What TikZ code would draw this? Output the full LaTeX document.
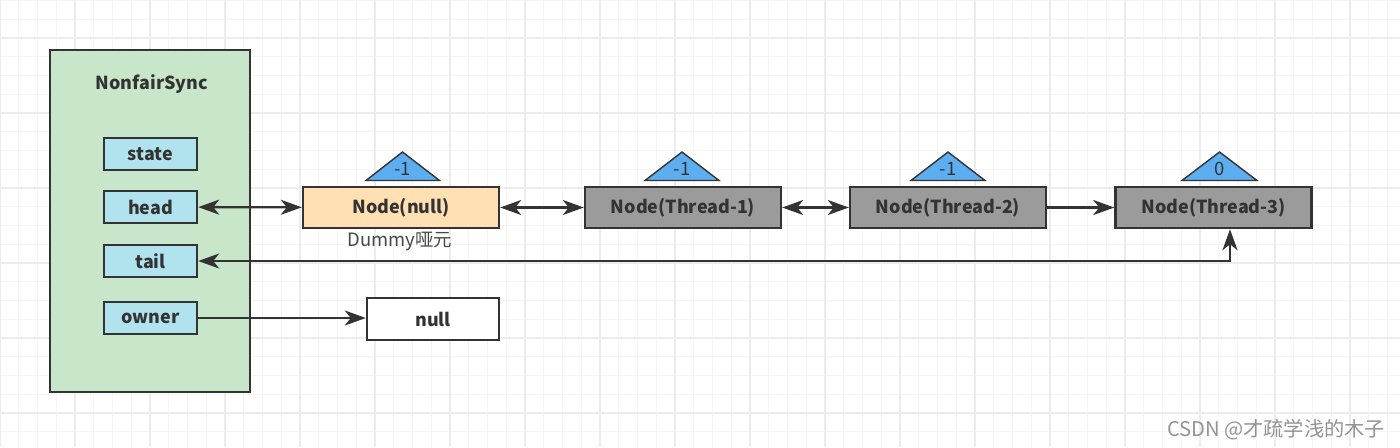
\documentclass[tikz,border=0pt]{standalone}
\usepackage{fontspec}
\setmainfont{Noto Sans CJK SC}
\usepackage{tikz}
\usetikzlibrary{arrows.meta}

\definecolor{syncgreen}{HTML}{C8E6C9}
\definecolor{fieldblue}{HTML}{B0E3EE}
\definecolor{dummyorange}{HTML}{FFE0B2}
\definecolor{threadgray}{HTML}{9B9B9B}
\definecolor{waitblue}{HTML}{5DAEF0}
\definecolor{edgegray}{HTML}{333333}

\begin{document}
\begin{tikzpicture}[x=0.02cm, y=-0.02cm,
        gridminor/.style={line width=0.5pt, gray!8},
        gridmajor/.style={line width=0.6pt, gray!15},
        box/.style={draw=edgegray, line width=1.4pt, inner sep=0pt, text=edgegray,
                    font=\bfseries\fontsize{10.2}{12}\selectfont},
        fieldbox/.style={box, fill=fieldblue, minimum width=1.86cm, minimum height=0.64cm},
        qnode/.style={box, fill=threadgray, minimum width=3.92cm, minimum height=0.82cm},
        waitmark/.style={draw=edgegray, line width=0.8pt, fill=waitblue, line join=miter},
        waitnum/.style={text=edgegray, font=\fontsize{10.5}{12}\selectfont},
        tip/.tip={Stealth[length=0.42cm, width=0.3cm, inset=0.12cm]},
        link/.style={draw=edgegray, line width=1.3pt, tip-tip},
        onelink/.style={draw=edgegray, line width=1.3pt, -tip}]

    \useasboundingbox (0,0) rectangle (1400,447);
    \fill [white] (0,0) rectangle (1400,447);
    \foreach \gx in {0,18.75,...,1400} \draw [gridminor] (\gx,0) -- (\gx,447);
    \foreach \gy in {0.5,19.25,...,447} \draw [gridminor] (0,\gy) -- (1400,\gy);
    \foreach \gx in {0,75,...,1400} \draw [gridmajor] (\gx,0) -- (\gx,447);
    \foreach \gy in {38,113,...,447} \draw [gridmajor] (0,\gy) -- (1400,\gy);

    \node [box, fill=syncgreen, line width=1.6pt, minimum width=4cm, minimum height=6.84cm] (sync) at (150,221) {};
    \node [text=edgegray, font=\bfseries\fontsize{10.2}{12}\selectfont] (title) at (152,84) {NonfairSync};

    \node [fieldbox] (state) at (150.5,154) {state};
    \node [fieldbox] (head) at (150.5,207) {head};
    \node [fieldbox] (tail) at (150.5,261) {tail};
    \node [fieldbox] (owner) at (150.5,318) {owner};

    \node [qnode, fill=dummyorange] (dummy) at (401,207.5) {Node(null)};
    \node [qnode] (thread1) at (683,207.5) {Node(Thread-1)};
    \node [qnode] (thread2) at (948,207.5) {Node(Thread-2)};
    \node [qnode] (thread3) at (1213.5,207.5) {Node(Thread-3)};
    \node [box, fill=white, minimum width=2.64cm, minimum height=0.84cm] (nullbox) at (433,319) {null};

    \node [text=edgegray!90, font=\fontsize{10.5}{12}\selectfont] (dummytext) at (400,241) {Dummy哑元};

    \draw [waitmark] (366,180.5) -- (402.5,152) -- (439.5,180.5) -- cycle;
    \draw [waitmark] (645,180.5) -- (682,152) -- (719,180.5) -- cycle;
    \draw [waitmark] (911,180.5) -- (948,152) -- (985,180.5) -- cycle;
    \draw [waitmark] (1182,180.5) -- (1219.5,152) -- (1257,180.5) -- cycle;
    \node [waitnum] (wait0) at (402.5,169) {-1};
    \node [waitnum] (wait1) at (682,169) {-1};
    \node [waitnum] (wait2) at (948,169) {-1};
    \node [waitnum] (wait3) at (1219.5,169) {0};

    \draw [link] (head) -- (dummy);
    \draw [link] (dummy) -- (thread1);
    \draw [link] (thread1) -- (thread2);
    \draw [onelink] (thread2) -- (thread3);
    \draw [link] (tail.east) -| ([xshift=0.33cm]thread3.south);
    \draw [onelink] (owner.east) -- (owner.east -| nullbox.west);

    \node [gray!85, font=\fontsize{11.5}{13}\selectfont] (csdn) at (1276,430) {CSDN @才疏学浅的木子};
\end{tikzpicture}
\end{document}
